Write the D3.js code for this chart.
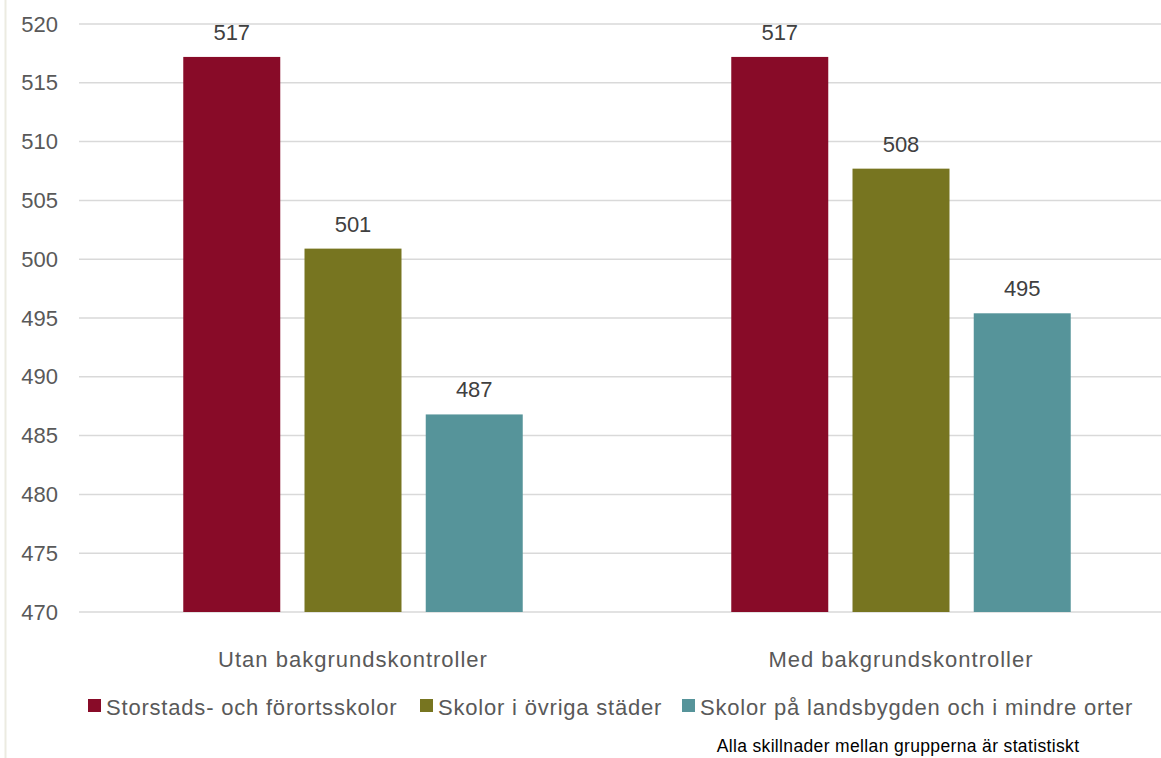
<!DOCTYPE html>
<html>
<head>
<meta charset="utf-8">
<script src="https://cdn.jsdelivr.net/npm/d3@7"></script>
<style>
  body { margin: 0; background: #fff; }
  svg { display: block; font-family: "Liberation Sans", Arial, sans-serif; }
</style>
</head>
<body>
<script>
const categories = ["Utan bakgrundskontroller", "Med bakgrundskontroller"];
const seriesNames = ["Storstads- och förortsskolor", "Skolor i övriga städer", "Skolor på landsbygden och i mindre orter"];
const storstad = [517.2, 517.2];
const ovriga = [500.9, 507.7];
const landsbygd = [486.8, 495.4];
const labels = [[517, 517], [501, 508], [487, 495]];
const yTicks = [470, 475, 480, 485, 490, 495, 500, 505, 510, 515, 520];
const colors = ["#880b28", "#777520", "#56949a"];
const note = "Alla skillnader mellan grupperna är statistiskt";

const width = 1161, height = 758;
const svg = d3.select("body").append("svg")
  .attr("width", width)
  .attr("height", height);

// left frame line
svg.append("line")
  .attr("x1", 5.5).attr("x2", 5.5)
  .attr("y1", 0).attr("y2", height)
  .attr("stroke", "#ecebe1").attr("stroke-width", 2);

const y = d3.scaleLinear().domain([470, 520]).range([612, 24]);
const x0 = d3.scaleBand().domain(categories).range([79, 1175]);
const x1 = d3.scaleBand().domain(d3.range(3)).range([0, x0.bandwidth()])
  .paddingInner(0.2).paddingOuter(0.86);

// gridlines
svg.append("g")
  .selectAll("line")
  .data(yTicks)
  .join("line")
  .attr("x1", 79).attr("x2", width)
  .attr("y1", d => y(d)).attr("y2", d => y(d))
  .attr("stroke", "#d9d9d9").attr("stroke-width", 1.5);

// y axis labels
const yAxis = svg.append("g")
  .attr("transform", "translate(58,0)")
  .call(d3.axisLeft(y).tickValues(yTicks).tickSize(0).tickPadding(0));
yAxis.select(".domain").remove();
yAxis.selectAll("text")
  .attr("font-size", 22)
  .attr("font-family", "Liberation Sans, Arial, sans-serif")
  .attr("fill", "#595959");

const series = [storstad, ovriga, landsbygd];

const groups = svg.append("g")
  .selectAll("g")
  .data(categories)
  .join("g")
  .attr("transform", d => `translate(${x0(d)},0)`);

groups.selectAll("rect")
  .data((c, ci) => series.map((s, si) => ({ si, v: s[ci], lab: labels[si][ci] })))
  .join("rect")
  .attr("x", d => x1(d.si))
  .attr("width", x1.bandwidth())
  .attr("y", d => y(d.v))
  .attr("height", d => y(470) - y(d.v))
  .attr("fill", d => colors[d.si]);

groups.selectAll("text.lab")
  .data((c, ci) => series.map((s, si) => ({ si, v: s[ci], lab: labels[si][ci] })))
  .join("text")
  .attr("class", "lab")
  .attr("x", d => x1(d.si) + x1.bandwidth() / 2)
  .attr("y", d => y(d.v) - 17)
  .attr("text-anchor", "middle")
  .attr("font-size", 22)
  .attr("fill", "#404040")
  .text(d => d.lab);

// category labels
svg.append("g")
  .selectAll("text")
  .data(categories)
  .join("text")
  .attr("x", d => x0(d) + x0.bandwidth() / 2)
  .attr("y", 667)
  .attr("text-anchor", "middle")
  .attr("font-size", 22)
  .attr("letter-spacing", 1)
  .attr("fill", "#595959")
  .text(d => d);

// legend
const legendX = [88, 420, 682];
const legend = svg.append("g")
  .selectAll("g")
  .data(seriesNames)
  .join("g")
  .attr("transform", (d, i) => `translate(${legendX[i]},699)`);
legend.append("rect")
  .attr("width", 13).attr("height", 13)
  .attr("fill", (d, i) => colors[i]);
legend.append("text")
  .attr("x", 18).attr("y", 16)
  .attr("font-size", 22)
  .attr("letter-spacing", 0.8)
  .attr("fill", "#595959")
  .text(d => d);

// footnote (sits right at the bottom edge)
svg.append("text")
  .attr("x", 898).attr("y", 752)
  .attr("text-anchor", "middle")
  .attr("font-size", 17.5)
  .attr("letter-spacing", 0.35)
  .attr("fill", "#000")
  .text(note);
</script>
</body>
</html>
